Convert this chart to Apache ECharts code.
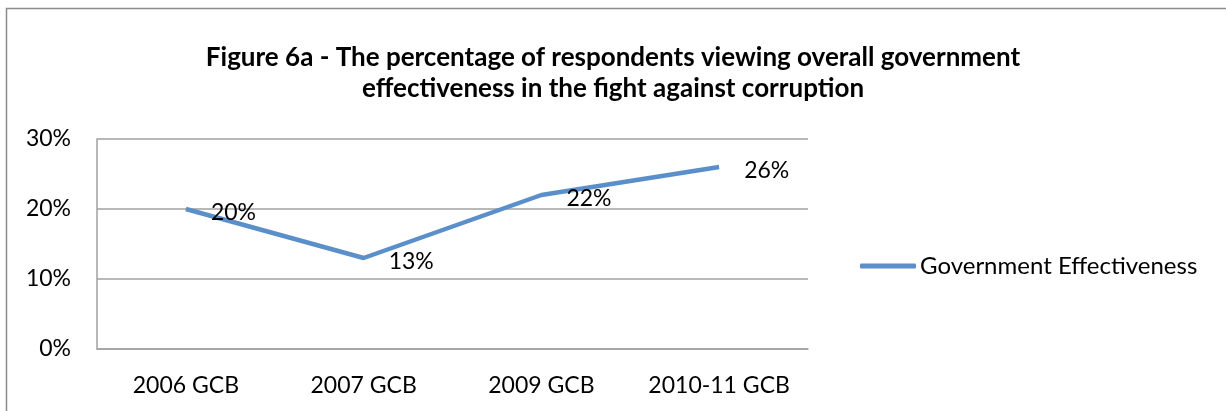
<!DOCTYPE html>
<html>
<head>
<meta charset="utf-8">
<script src="https://cdn.jsdelivr.net/npm/echarts@6/dist/echarts.min.js"></script>
<style>
  html, body { margin: 0; padding: 0; background: #fff; }
  #chart { width: 1226px; height: 411px; }
</style>
</head>
<body>
<div id="chart"></div>
<script>
// data
var categories = ['2006 GCB', '2007 GCB', '2009 GCB', '2010-11 GCB']
var effectiveness = [20, 13, 22, 26]
var seriesName = 'Government Effectiveness'
var yTicks = [0, 10, 20, 30]

var titleText = 'Figure 6a - The percentage of respondents viewing overall government\neffectiveness in the fight against corruption'
var fontName = 'Lato'

var chart = echarts.init(document.getElementById('chart'))

var opt = {
  animation: false,
  textStyle: { fontFamily: fontName },
  graphic: [
    {
      type: 'rect',
      shape: { x: 6.5, y: 8.5, width: 1240, height: 420 },
      style: { fill: 'none', stroke: '#8c8c8c', lineWidth: 1.5 },
      silent: true
    }
  ],
  title: {
    text: titleText,
    left: 'center',
    top: 37,
    textStyle: {
      fontFamily: fontName,
      fontSize: 26,
      fontWeight: 'bold',
      color: '#000',
      lineHeight: 31
    }
  },
  grid: {
    left: 97,
    right: 418,
    top: 139,
    bottom: 62
  },
  legend: {
    data: [seriesName],
    left: 855,
    top: 249,
    icon: 'roundRect',
    itemWidth: 56,
    itemHeight: 5,
    textStyle: { fontFamily: fontName, fontSize: 24, color: '#000', padding: [0, 0, 0, -1] }
  },
  xAxis: {
    type: 'category',
    data: categories,
    boundaryGap: true,
    axisLine: { lineStyle: { color: '#a0a0a0', width: 1.5 } },
    axisTick: { show: false },
    axisLabel: { color: '#000', fontSize: 23, margin: 25, interval: 0, fontFamily: fontName }
  },
  yAxis: {
    type: 'value',
    min: yTicks[0],
    max: yTicks[yTicks.length - 1],
    interval: 10,
    axisLine: { show: true, lineStyle: { color: '#a0a0a0', width: 1.5 } },
    axisTick: { show: false },
    splitLine: { lineStyle: { color: '#a0a0a0', width: 1.5 } },
    axisLabel: {
      color: '#000',
      fontSize: 23,
      margin: 26,
      fontFamily: fontName,
      formatter: '{value}%'
    }
  },
  series: [
    {
      name: seriesName,
      type: 'line',
      data: effectiveness,
      symbol: 'circle',
      symbolSize: 0.1,
      lineStyle: { color: '#5b8fc9', width: 4.5 },
      itemStyle: { color: '#5b8fc9' },
      label: {
        show: true,
        position: 'right',
        distance: 25,
        offset: [0, 4],
        color: '#000',
        fontSize: 23,
        fontFamily: fontName,
        formatter: '{c}%'
      }
    }
  ]
}

chart.setOption(opt)
</script>
</body>
</html>
